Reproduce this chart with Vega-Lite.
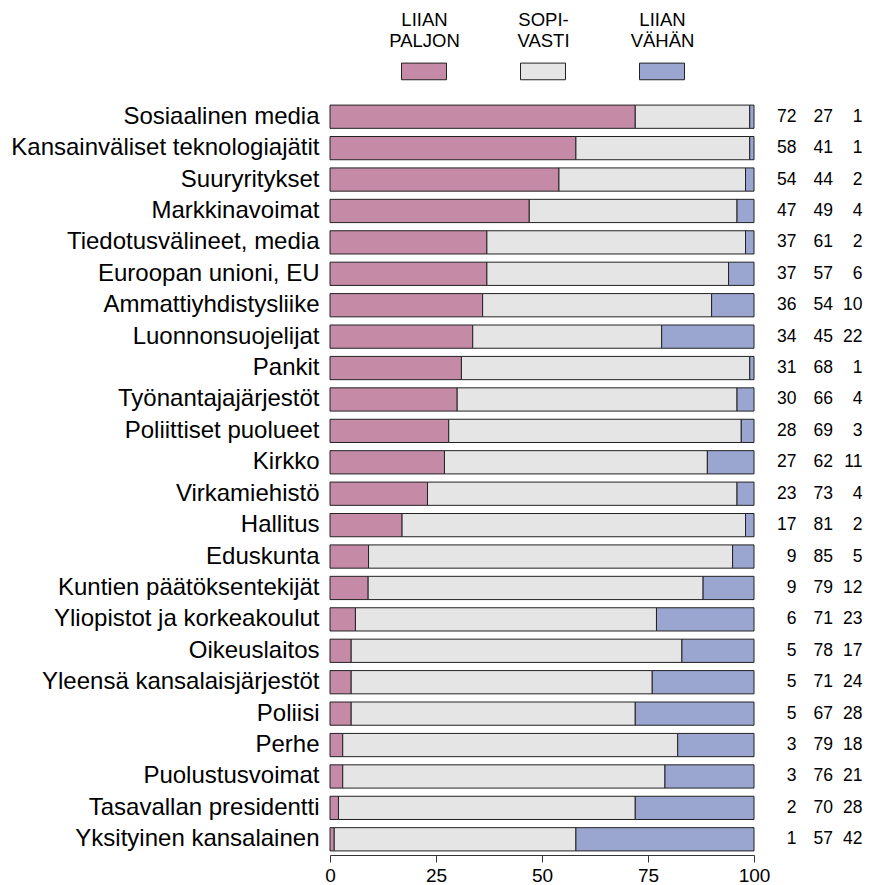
{
  "$schema": "https://vega.github.io/schema/vega-lite/v6.json",
  "width": 424,
  "height": 754,
  "padding": {"left": 10, "top": 7, "right": 5, "bottom": 0},
  "config": {"view": {"stroke": null}, "font": "Liberation Sans"},
  "data": {"values": [
    {"cat": "Sosiaalinen media", "kind": "LIIAN PALJON", "k": 1, "value": 72},
    {"cat": "Sosiaalinen media", "kind": "SOPI- VASTI", "k": 2, "value": 27},
    {"cat": "Sosiaalinen media", "kind": "LIIAN VÄHÄN", "k": 3, "value": 1},
    {"cat": "Kansainväliset teknologiajätit", "kind": "LIIAN PALJON", "k": 1, "value": 58},
    {"cat": "Kansainväliset teknologiajätit", "kind": "SOPI- VASTI", "k": 2, "value": 41},
    {"cat": "Kansainväliset teknologiajätit", "kind": "LIIAN VÄHÄN", "k": 3, "value": 1},
    {"cat": "Suuryritykset", "kind": "LIIAN PALJON", "k": 1, "value": 54},
    {"cat": "Suuryritykset", "kind": "SOPI- VASTI", "k": 2, "value": 44},
    {"cat": "Suuryritykset", "kind": "LIIAN VÄHÄN", "k": 3, "value": 2},
    {"cat": "Markkinavoimat", "kind": "LIIAN PALJON", "k": 1, "value": 47},
    {"cat": "Markkinavoimat", "kind": "SOPI- VASTI", "k": 2, "value": 49},
    {"cat": "Markkinavoimat", "kind": "LIIAN VÄHÄN", "k": 3, "value": 4},
    {"cat": "Tiedotusvälineet, media", "kind": "LIIAN PALJON", "k": 1, "value": 37},
    {"cat": "Tiedotusvälineet, media", "kind": "SOPI- VASTI", "k": 2, "value": 61},
    {"cat": "Tiedotusvälineet, media", "kind": "LIIAN VÄHÄN", "k": 3, "value": 2},
    {"cat": "Euroopan unioni, EU", "kind": "LIIAN PALJON", "k": 1, "value": 37},
    {"cat": "Euroopan unioni, EU", "kind": "SOPI- VASTI", "k": 2, "value": 57},
    {"cat": "Euroopan unioni, EU", "kind": "LIIAN VÄHÄN", "k": 3, "value": 6},
    {"cat": "Ammattiyhdistysliike", "kind": "LIIAN PALJON", "k": 1, "value": 36},
    {"cat": "Ammattiyhdistysliike", "kind": "SOPI- VASTI", "k": 2, "value": 54},
    {"cat": "Ammattiyhdistysliike", "kind": "LIIAN VÄHÄN", "k": 3, "value": 10},
    {"cat": "Luonnonsuojelijat", "kind": "LIIAN PALJON", "k": 1, "value": 34},
    {"cat": "Luonnonsuojelijat", "kind": "SOPI- VASTI", "k": 2, "value": 45},
    {"cat": "Luonnonsuojelijat", "kind": "LIIAN VÄHÄN", "k": 3, "value": 22},
    {"cat": "Pankit", "kind": "LIIAN PALJON", "k": 1, "value": 31},
    {"cat": "Pankit", "kind": "SOPI- VASTI", "k": 2, "value": 68},
    {"cat": "Pankit", "kind": "LIIAN VÄHÄN", "k": 3, "value": 1},
    {"cat": "Työnantajajärjestöt", "kind": "LIIAN PALJON", "k": 1, "value": 30},
    {"cat": "Työnantajajärjestöt", "kind": "SOPI- VASTI", "k": 2, "value": 66},
    {"cat": "Työnantajajärjestöt", "kind": "LIIAN VÄHÄN", "k": 3, "value": 4},
    {"cat": "Poliittiset puolueet", "kind": "LIIAN PALJON", "k": 1, "value": 28},
    {"cat": "Poliittiset puolueet", "kind": "SOPI- VASTI", "k": 2, "value": 69},
    {"cat": "Poliittiset puolueet", "kind": "LIIAN VÄHÄN", "k": 3, "value": 3},
    {"cat": "Kirkko", "kind": "LIIAN PALJON", "k": 1, "value": 27},
    {"cat": "Kirkko", "kind": "SOPI- VASTI", "k": 2, "value": 62},
    {"cat": "Kirkko", "kind": "LIIAN VÄHÄN", "k": 3, "value": 11},
    {"cat": "Virkamiehistö", "kind": "LIIAN PALJON", "k": 1, "value": 23},
    {"cat": "Virkamiehistö", "kind": "SOPI- VASTI", "k": 2, "value": 73},
    {"cat": "Virkamiehistö", "kind": "LIIAN VÄHÄN", "k": 3, "value": 4},
    {"cat": "Hallitus", "kind": "LIIAN PALJON", "k": 1, "value": 17},
    {"cat": "Hallitus", "kind": "SOPI- VASTI", "k": 2, "value": 81},
    {"cat": "Hallitus", "kind": "LIIAN VÄHÄN", "k": 3, "value": 2},
    {"cat": "Eduskunta", "kind": "LIIAN PALJON", "k": 1, "value": 9},
    {"cat": "Eduskunta", "kind": "SOPI- VASTI", "k": 2, "value": 85},
    {"cat": "Eduskunta", "kind": "LIIAN VÄHÄN", "k": 3, "value": 5},
    {"cat": "Kuntien päätöksentekijät", "kind": "LIIAN PALJON", "k": 1, "value": 9},
    {"cat": "Kuntien päätöksentekijät", "kind": "SOPI- VASTI", "k": 2, "value": 79},
    {"cat": "Kuntien päätöksentekijät", "kind": "LIIAN VÄHÄN", "k": 3, "value": 12},
    {"cat": "Yliopistot ja korkeakoulut", "kind": "LIIAN PALJON", "k": 1, "value": 6},
    {"cat": "Yliopistot ja korkeakoulut", "kind": "SOPI- VASTI", "k": 2, "value": 71},
    {"cat": "Yliopistot ja korkeakoulut", "kind": "LIIAN VÄHÄN", "k": 3, "value": 23},
    {"cat": "Oikeuslaitos", "kind": "LIIAN PALJON", "k": 1, "value": 5},
    {"cat": "Oikeuslaitos", "kind": "SOPI- VASTI", "k": 2, "value": 78},
    {"cat": "Oikeuslaitos", "kind": "LIIAN VÄHÄN", "k": 3, "value": 17},
    {"cat": "Yleensä kansalaisjärjestöt", "kind": "LIIAN PALJON", "k": 1, "value": 5},
    {"cat": "Yleensä kansalaisjärjestöt", "kind": "SOPI- VASTI", "k": 2, "value": 71},
    {"cat": "Yleensä kansalaisjärjestöt", "kind": "LIIAN VÄHÄN", "k": 3, "value": 24},
    {"cat": "Poliisi", "kind": "LIIAN PALJON", "k": 1, "value": 5},
    {"cat": "Poliisi", "kind": "SOPI- VASTI", "k": 2, "value": 67},
    {"cat": "Poliisi", "kind": "LIIAN VÄHÄN", "k": 3, "value": 28},
    {"cat": "Perhe", "kind": "LIIAN PALJON", "k": 1, "value": 3},
    {"cat": "Perhe", "kind": "SOPI- VASTI", "k": 2, "value": 79},
    {"cat": "Perhe", "kind": "LIIAN VÄHÄN", "k": 3, "value": 18},
    {"cat": "Puolustusvoimat", "kind": "LIIAN PALJON", "k": 1, "value": 3},
    {"cat": "Puolustusvoimat", "kind": "SOPI- VASTI", "k": 2, "value": 76},
    {"cat": "Puolustusvoimat", "kind": "LIIAN VÄHÄN", "k": 3, "value": 21},
    {"cat": "Tasavallan presidentti", "kind": "LIIAN PALJON", "k": 1, "value": 2},
    {"cat": "Tasavallan presidentti", "kind": "SOPI- VASTI", "k": 2, "value": 70},
    {"cat": "Tasavallan presidentti", "kind": "LIIAN VÄHÄN", "k": 3, "value": 28},
    {"cat": "Yksityinen kansalainen", "kind": "LIIAN PALJON", "k": 1, "value": 1},
    {"cat": "Yksityinen kansalainen", "kind": "SOPI- VASTI", "k": 2, "value": 57},
    {"cat": "Yksityinen kansalainen", "kind": "LIIAN VÄHÄN", "k": 3, "value": 42}
  ]},
  "encoding": {
    "y": {
      "field": "cat", "type": "nominal", "sort": null,
      "scale": {"paddingInner": 0.26, "paddingOuter": 0.13},
      "axis": {"title": null, "ticks": false, "domain": false, "labelFontSize": 24, "labelPadding": 11, "labelColor": "black", "labelLimit": 0}
    }
  },
  "layer": [
    {
      "mark": {"type": "bar", "stroke": "#222", "strokeWidth": 1},
      "encoding": {
        "x": {
          "field": "value", "type": "quantitative", "stack": "normalize",
          "scale": {"domain": [0, 1], "nice": false},
          "axis": {"title": null, "grid": false, "values": [0, 0.25, 0.5, 0.75, 1], "labelExpr": "format(datum.value * 100, 'd')", "labelFlush": false, "tickSize": 7, "tickColor": "#333", "domainColor": "#333", "labelFontSize": 19, "labelColor": "black", "labelPadding": 4}
        },
        "color": {
          "field": "kind", "type": "nominal",
          "scale": {"domain": ["LIIAN PALJON", "SOPI- VASTI", "LIIAN VÄHÄN"], "range": ["#c48aa6", "#e5e5e5", "#9aa5d0"]},
          "legend": {
            "orient": "none", "legendX": 71, "legendY": -94, "direction": "horizontal", "columns": 3, "gridAlign": "all",
            "title": null, "symbolType": "M-1,1.46H1V2.2H-1Z", "symbolSize": 2025,
            "symbolStrokeColor": "#222", "symbolStrokeWidth": 1, "symbolOpacity": 1,
            "labelAlign": "center", "labelBaseline": "bottom", "labelOffset": -22.5,
            "labelExpr": "split(datum.label, ' ')", "labelFontSize": 18.5, "labelColor": "black",
            "labelLimit": 0, "columnPadding": 51
          }
        },
        "order": {"field": "k", "type": "quantitative"}
      }
    },
    {
      "transform": [{"filter": "datum.k == 1"}],
      "mark": {"type": "text", "align": "right", "baseline": "middle", "fontSize": 17.5, "color": "black"},
      "encoding": {"x": {"datum": 1.1}, "text": {"field": "value", "type": "quantitative"}}
    },
    {
      "transform": [{"filter": "datum.k == 2"}],
      "mark": {"type": "text", "align": "right", "baseline": "middle", "fontSize": 17.5, "color": "black"},
      "encoding": {"x": {"datum": 1.186}, "text": {"field": "value", "type": "quantitative"}}
    },
    {
      "transform": [{"filter": "datum.k == 3"}],
      "mark": {"type": "text", "align": "right", "baseline": "middle", "fontSize": 17.5, "color": "black"},
      "encoding": {"x": {"datum": 1.256}, "text": {"field": "value", "type": "quantitative"}}
    }
  ]
}
